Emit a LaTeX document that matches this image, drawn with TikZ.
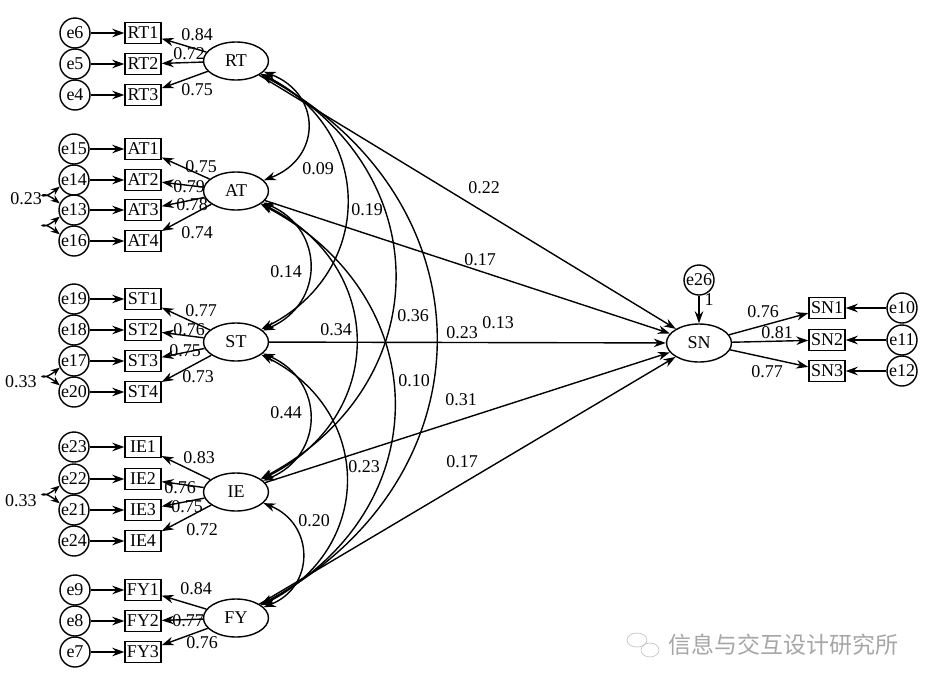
\documentclass[tikz,border=0pt]{standalone}
\usepackage{fontspec}
\setmainfont{Liberation Serif}
\newfontfamily\cjkfont{Noto Sans CJK SC}
\usetikzlibrary{shapes.geometric,arrows.meta}

\tikzset{
  lat/.style={draw,ellipse,minimum width=65pt,minimum height=38pt,inner sep=0pt},
  obs/.style={draw,rectangle,minimum width=36pt,minimum height=21pt,inner sep=0pt},
  err/.style={draw,circle,minimum size=30pt,inner sep=0pt},
  reg/.style={-{Stealth[length=12pt,width=8.5pt]}},
  cov/.style={{Stealth[length=12pt,width=8.5pt]}-{Stealth[length=12pt,width=8.5pt]}},
  ecov/.style={{Stealth[length=9pt,width=7pt]}-{Stealth[length=9pt,width=7pt]}},
  coef/.style={inner sep=0pt}
}

\begin{document}
\begin{tikzpicture}[x=1pt,y=-1pt,line width=1.4pt,font=\fontsize{18}{20}\selectfont]
\useasboundingbox (0,0) rectangle (930,686);

% latent variables
\node[lat] (RT) at (236,61) {RT};
\node[lat] (AT) at (236,191) {AT};
\node[lat] (ST) at (236,342) {ST};
\node[lat] (IE) at (236,492) {IE};
\node[lat] (FY) at (236,618) {FY};
\node[lat] (SN) at (699,343) {SN};

% indicators
\node[obs] (RT1) at (143,33) {RT1};
\node[obs] (RT2) at (143,64) {RT2};
\node[obs] (RT3) at (143,95) {RT3};
\node[obs] (AT1) at (143,149) {AT1};
\node[obs] (AT2) at (143,180) {AT2};
\node[obs] (AT3) at (143,210) {AT3};
\node[obs] (AT4) at (143,241) {AT4};
\node[obs] (ST1) at (143,299) {ST1};
\node[obs] (ST2) at (143,330) {ST2};
\node[obs] (ST3) at (143,361) {ST3};
\node[obs] (ST4) at (143,392) {ST4};
\node[obs] (IE1) at (143,447) {IE1};
\node[obs] (IE2) at (143,479) {IE2};
\node[obs] (IE3) at (143,510) {IE3};
\node[obs] (IE4) at (143,541) {IE4};
\node[obs] (FY1) at (143,590) {FY1};
\node[obs] (FY2) at (143,621) {FY2};
\node[obs] (FY3) at (143,652) {FY3};
\node[obs] (SN1) at (827,308) {SN1};
\node[obs] (SN2) at (827,340) {SN2};
\node[obs] (SN3) at (827,371) {SN3};

% error terms
\node[err] (e6) at (75,33) {e6};
\node[err] (e5) at (75,64) {e5};
\node[err] (e4) at (75,95) {e4};
\node[err] (e15) at (74,149) {e15};
\node[err] (e14) at (74,180) {e14};
\node[err] (e13) at (74,210) {e13};
\node[err] (e16) at (74,241) {e16};
\node[err] (e19) at (74,299) {e19};
\node[err] (e18) at (74,330) {e18};
\node[err] (e17) at (74,361) {e17};
\node[err] (e20) at (74,392) {e20};
\node[err] (e23) at (74,447) {e23};
\node[err] (e22) at (74,479) {e22};
\node[err] (e21) at (74,510) {e21};
\node[err] (e24) at (74,541) {e24};
\node[err] (e9) at (75,590) {e9};
\node[err] (e8) at (75,621) {e8};
\node[err] (e7) at (75,652) {e7};
\node[err] (e10) at (902,308) {e10};
\node[err] (e11) at (902,340) {e11};
\node[err] (e12) at (902,371) {e12};
\node[err] (e26) at (699,280) {e26};

% error -> indicator
\draw[reg] (e6) -- (RT1);
\draw[reg] (e5) -- (RT2);
\draw[reg] (e4) -- (RT3);
\draw[reg] (e15) -- (AT1);
\draw[reg] (e14) -- (AT2);
\draw[reg] (e13) -- (AT3);
\draw[reg] (e16) -- (AT4);
\draw[reg] (e19) -- (ST1);
\draw[reg] (e18) -- (ST2);
\draw[reg] (e17) -- (ST3);
\draw[reg] (e20) -- (ST4);
\draw[reg] (e23) -- (IE1);
\draw[reg] (e22) -- (IE2);
\draw[reg] (e21) -- (IE3);
\draw[reg] (e24) -- (IE4);
\draw[reg] (e9) -- (FY1);
\draw[reg] (e8) -- (FY2);
\draw[reg] (e7) -- (FY3);
\draw[reg] (e10) -- (SN1);
\draw[reg] (e11) -- (SN2);
\draw[reg] (e12) -- (SN3);
\draw[reg] (e26) -- (SN);
\node[coef] (c26) at (709,300) {1};

% loadings
\draw[reg] (RT) -- (RT1);
\draw[reg] (RT) -- (RT2);
\draw[reg] (RT) -- (RT3);
\draw[reg] (AT) -- (AT1);
\draw[reg] (AT) -- (AT2);
\draw[reg] (AT) -- (AT3);
\draw[reg] (AT) -- (AT4);
\draw[reg] (ST) -- (ST1);
\draw[reg] (ST) -- (ST2);
\draw[reg] (ST) -- (ST3);
\draw[reg] (ST) -- (ST4);
\draw[reg] (IE) -- (IE1);
\draw[reg] (IE) -- (IE2);
\draw[reg] (IE) -- (IE3);
\draw[reg] (IE) -- (IE4);
\draw[reg] (FY) -- (FY1);
\draw[reg] (FY) -- (FY2);
\draw[reg] (FY) -- (FY3);
\draw[reg] (SN) -- (SN1);
\draw[reg] (SN) -- (SN2);
\draw[reg] (SN) -- (SN3);

\node[coef] (cRT1) at (197,35) {0.84};
\node[coef] (cRT2) at (189,54) {0.72};
\node[coef] (cRT3) at (197,90) {0.75};
\node[coef] (cAT1) at (201,167) {0.75};
\node[coef] (cAT2) at (189,187) {0.79};
\node[coef] (cAT3) at (192,205) {0.78};
\node[coef] (cAT4) at (197,233) {0.74};
\node[coef] (cST1) at (201,311) {0.77};
\node[coef] (cST2) at (189,330) {0.76};
\node[coef] (cST3) at (185,351) {0.75};
\node[coef] (cST4) at (198,377) {0.73};
\node[coef] (cIE1) at (199,458) {0.83};
\node[coef] (cIE2) at (180,488) {0.76};
\node[coef] (cIE3) at (187,507) {0.75};
\node[coef] (cIE4) at (202,530) {0.72};
\node[coef] (cFY1) at (196,589) {0.84};
\node[coef] (cFY2) at (188,621) {0.77};
\node[coef] (cFY3) at (202,643) {0.76};
\node[coef] (cSN1) at (763,312) {0.76};
\node[coef] (cSN2) at (777,333) {0.81};
\node[coef] (cSN3) at (767,372) {0.77};

% error covariances
\draw[ecov] (e14.205) .. controls (38,204) and (38,187) .. (e13.155);
\draw[ecov] (e13.205) .. controls (38,234) and (38,217) .. (e16.155);
\draw[ecov] (e17.205) .. controls (38,385) and (38,368) .. (e20.155);
\draw[ecov] (e22.205) .. controls (38,503) and (38,486) .. (e21.155);
\node[coef] (ce1) at (26,199) {0.23};
\node[coef] (ce2) at (21,382) {0.33};
\node[coef] (ce3) at (21,501) {0.33};

% latent covariances
\draw[cov] (RT) .. controls (322,94) and (322,158) .. (AT);
\draw[cov] (RT) .. controls (375,131) and (375,272) .. (ST);
\draw[cov] (RT) .. controls (439,169) and (439,384) .. (IE);
\draw[cov] (RT) .. controls (494,200) and (494,479) .. (FY);
\draw[cov] (AT) .. controls (325,229) and (325,304) .. (ST);
\draw[cov] (AT) .. controls (387,266) and (387,417) .. (IE);
\draw[cov] (AT) .. controls (438,298) and (438,511) .. (FY);
\draw[cov] (ST) .. controls (325,380) and (325,455) .. (IE);
\draw[cov] (ST) .. controls (374,411) and (374,549) .. (FY);
\draw[cov] (IE) .. controls (315,524) and (315,587) .. (FY);
\node[coef] (cRA) at (318,169) {0.09};
\node[coef] (cRS) at (367,210) {0.19};
\node[coef] (cRI) at (413,316) {0.36};
\node[coef] (cRF) at (414,381) {0.10};
\node[coef] (cAS) at (286,272) {0.14};
\node[coef] (cAI) at (336,330) {0.34};
\node[coef] (cSI) at (286,413) {0.44};
\node[coef] (cSF) at (364,467) {0.23};
\node[coef] (cIF) at (314,521) {0.20};

% structural paths
\draw[reg] (RT) -- (SN);
\draw[reg] (AT) -- (SN);
\draw[reg] (ST) -- (SN);
\draw[reg] (IE) -- (SN);
\draw[reg] (FY) -- (SN);
\node[coef] (cRN) at (484,188) {0.22};
\node[coef] (cAN) at (480,260) {0.17};
\node[coef] (cSN) at (462,333) {0.23};
\node[coef] (cAF) at (498,323) {0.13};
\node[coef] (cIN) at (461,400) {0.31};
\node[coef] (cFN) at (462,462) {0.17};

% watermark
\draw[gray!45,line width=0.7pt] (637,640) ellipse [x radius=10pt,y radius=7pt];
\draw[gray!45,line width=0.7pt] (650,650) ellipse [x radius=9pt,y radius=7pt];
\node[text=gray!70,font=\cjkfont\fontsize{23}{26}\selectfont] (wm) at (783,645) {信息与交互设计研究所};
\end{tikzpicture}
\end{document}
